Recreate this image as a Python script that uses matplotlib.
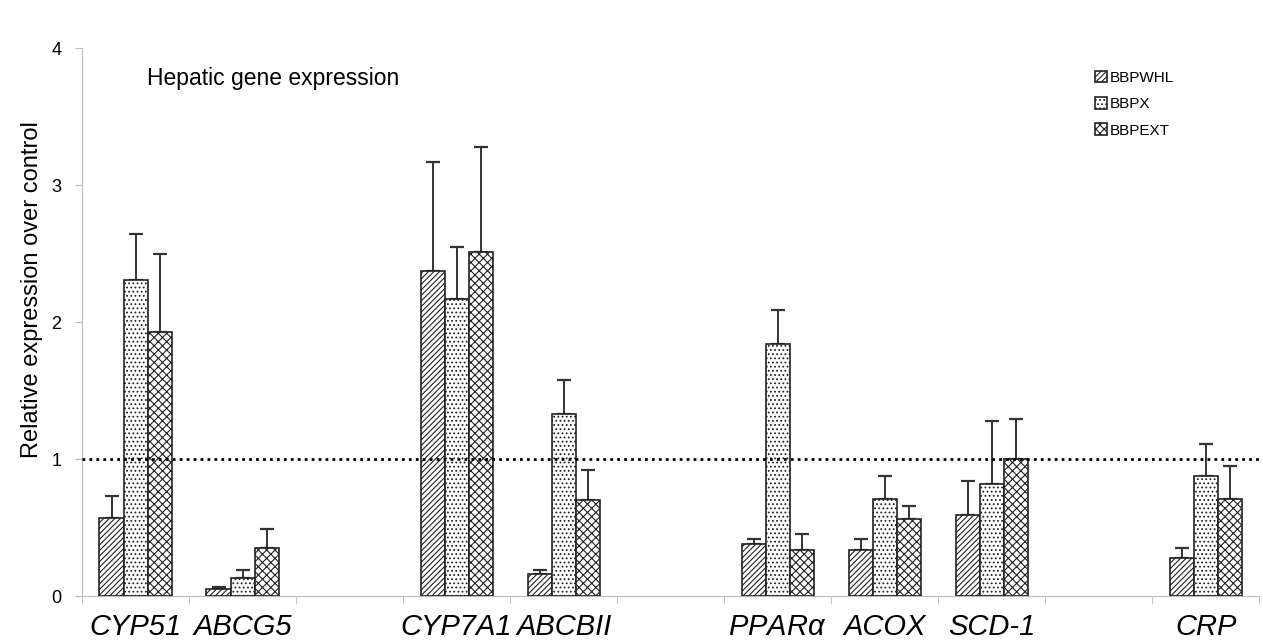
import numpy as np
import matplotlib
matplotlib.use("Agg")
import matplotlib.pyplot as plt

# data (empty strings are the blank slots)
genes = ["CYP51", "ABCG5", "", "CYP7A1", "ABCBII", "", r"PPAR$\alpha$", "ACOX", "SCD-1", "", "CRP"]
series = ["BBPWHL", "BBPX", "BBPEXT"]
whl = [0.57, 0.05, None, 2.37, 0.16, None, 0.38, 0.34, 0.59, None, 0.28]
whl_err = [0.16, 0.02, None, 0.80, 0.03, None, 0.04, 0.08, 0.25, None, 0.07]
bbpx = [2.31, 0.13, None, 2.17, 1.33, None, 1.84, 0.71, 0.82, None, 0.88]
bbpx_err = [0.33, 0.06, None, 0.38, 0.25, None, 0.25, 0.17, 0.46, None, 0.23]
ext = [1.93, 0.35, None, 2.51, 0.70, None, 0.34, 0.56, 1.00, None, 0.71]
ext_err = [0.57, 0.14, None, 0.77, 0.22, None, 0.11, 0.10, 0.29, None, 0.24]

hatches = ["//////", "....", "xxxx"]

plt.rcParams["font.family"] = ["Liberation Sans", "DejaVu Sans"]
plt.rcParams["mathtext.fontset"] = "custom"
plt.rcParams["mathtext.it"] = "Liberation Sans:italic"
plt.rcParams["hatch.color"] = "#444444"
plt.rcParams["hatch.linewidth"] = 0.8

fig = plt.figure(figsize=(12.63, 6.41), dpi=100)
ax = fig.add_axes([0.065, 0.070, 0.932, 0.855])

w = 0.225
x = np.arange(len(genes))
for k, (vals, errs) in enumerate([(whl, whl_err), (bbpx, bbpx_err), (ext, ext_err)]):
    idx = [i for i, v in enumerate(vals) if v is not None]
    v = np.array([vals[i] for i in idx])
    e = np.array([errs[i] for i in idx])
    xs = x[idx] + (k - 1) * w
    ax.bar(xs, v, width=w, color="white", edgecolor="#222222", linewidth=1.2,
           hatch=hatches[k], label=series[k], zorder=3)
    ax.errorbar(xs, v, yerr=[np.zeros_like(e), e], fmt="none", ecolor="#333333",
                elinewidth=1.4, capsize=5, capthick=1.6, zorder=2)

ax.axhline(1, color="black", linestyle=(0, (1, 1.5)), linewidth=2, zorder=4)

ax.set_xlim(-0.5, len(genes) - 0.5)
ax.set_ylim(0, 4)
ax.set_yticks([0, 1, 2, 3, 4])
ax.set_xticks(x)
ax.set_xticklabels(genes, fontsize=21, style="italic")
ax.set_xticks(np.arange(-0.5, len(genes), 1.0), minor=True)
ax.tick_params(axis="x", which="major", length=0, pad=12)
ax.tick_params(axis="x", which="minor", length=6, color="#bbbbbb", direction="out")
ax.tick_params(axis="y", length=5, color="#bbbbbb", labelsize=13, pad=10)
ax.set_ylabel("Relative expression over control", fontsize=17)
ax.yaxis.set_label_coords(-0.033, 0.56)

for s in ["top", "right"]:
    ax.spines[s].set_visible(False)
ax.spines["left"].set_color("#bbbbbb")
ax.spines["bottom"].set_color("#bbbbbb")

ax.text(0.055, 0.965, "Hepatic gene expression", transform=ax.transAxes,
        fontsize=16.5, va="top", ha="left")

ax.legend(loc="upper left", bbox_to_anchor=(0.855, 0.97), frameon=False,
          fontsize=11, handlelength=0.8, handleheight=0.8, handletextpad=0.2,
          labelspacing=0.8, borderaxespad=0)

fig.savefig("out.png", dpi=100)
